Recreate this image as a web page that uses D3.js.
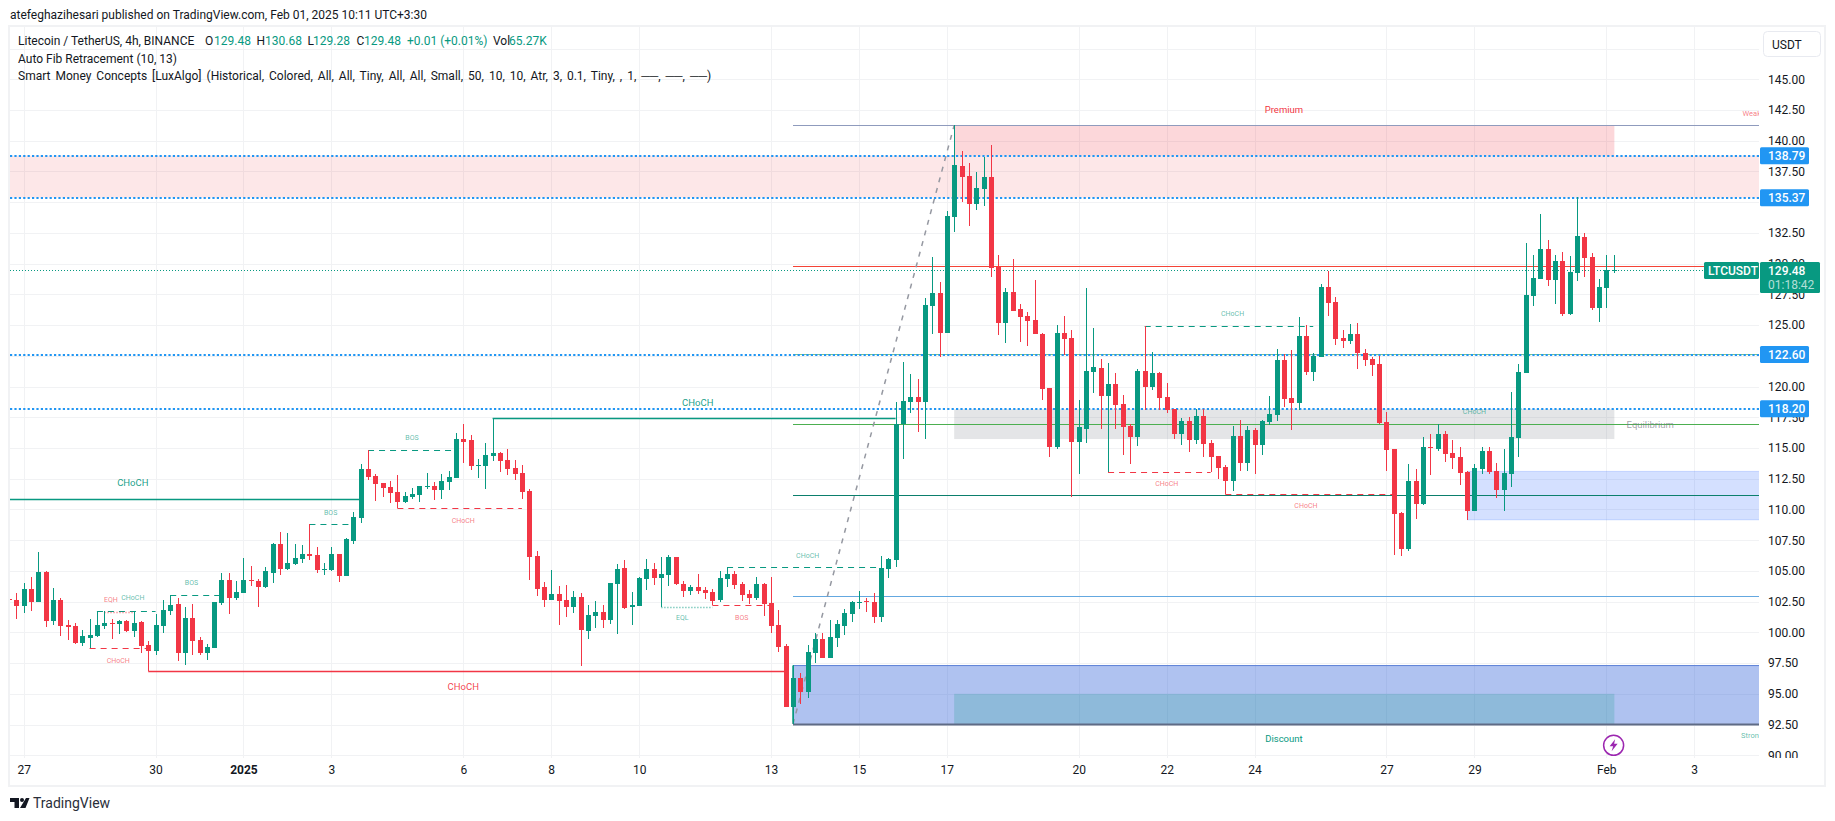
<!DOCTYPE html>
<html>
<head>
<meta charset="utf-8">
<title>LTCUSDT</title>
<script src="https://cdn.jsdelivr.net/npm/d3@7"></script>
<style>
    html, body { margin: 0; padding: 0; background: #fff; }
    svg { display: block; }
    text { font-family: Roboto, sans-serif; }
</style>
</head>
<body>
<div id="chart"></div>
<script>
////////////////////////////////////
///////////////data/////////////////
////////////////////////////////////

// 4h candles, bar 2 is Dec 27 00:00
const opens = [
    102.70,102.61,102.17,103.50,102.50,104.91,100.95,102.61,100.60,100.52,
    99.16,99.57,99.73,100.52,100.79,100.71,100.93,100.14,100.85,98.97,
    98.49,100.52,101.74,102.31,98.32,101.17,99.38,98.32,98.73,102.39,
    104.26,102.80,103.20,104.26,104.18,103.69,104.83,107.19,105.16,105.56,
    105.97,106.38,106.30,105.10,105.08,106.38,104.59,107.44,109.31,113.29,
    112.72,112.15,111.83,111.42,110.61,111.02,111.18,111.83,111.91,111.59,
    112.24,112.56,115.74,115.66,113.54,113.54,114.35,114.60,114.03,113.38,
    112.97,111.51,106.22,103.70,102.64,103.13,102.64,102.07,102.88,100.12,
    101.34,101.66,101.01,103.94,105.24,102.07,102.15,104.35,105.16,104.43,
    104.67,106.14,103.94,103.37,103.70,103.45,103.29,102.64,104.35,104.75,
    103.94,103.13,102.80,103.94,102.39,100.60,98.89,93.92,96.28,95.14,
    98.32,99.46,97.91,99.54,100.51,101.49,102.38,102.55,102.47,101.25,
    105.15,105.88,116.96,118.75,119.16,118.75,126.56,127.62,124.36,133.80,
    137.95,137.14,134.86,136.08,137.06,129.73,125.18,127.70,126.32,125.75,
    125.42,124.28,119.89,115.09,124.36,123.96,115.49,116.55,121.19,121.52,
    119.24,120.21,118.58,116.79,115.90,121.27,119.96,121.10,119.15,118.17,
    116.14,117.20,115.65,117.60,115.41,114.35,113.45,112.32,115.98,113.78,
    116.47,115.24,117.12,117.69,122.16,119.07,118.66,124.11,121.18,122.40,
    128.10,126.88,123.95,123.71,124.28,122.73,122.24,121.83,117.12,114.92,
    109.71,106.78,112.32,110.45,115.09,114.92,116.14,114.60,114.27,113.05,
    109.88,113.30,114.76,113.13,111.59,112.89,115.82,121.11,127.37,128.76,
    131.20,128.67,130.22,125.91,129.24,132.17,130.55,126.40,128.02,129.47
]
const highs = [
    102.90,103.18,103.99,104.48,106.54,104.97,103.58,102.77,101.01,100.74,
    100.19,101.06,101.77,101.77,101.12,101.01,101.01,101.66,100.93,99.30,
    101.47,102.61,103.01,102.77,102.07,102.31,99.62,99.06,102.47,104.83,
    104.83,104.18,106.05,105.40,104.34,105.32,107.27,108.17,108.09,107.19,
    107.11,108.82,106.95,105.65,106.95,106.38,107.68,109.79,113.70,114.84,
    112.89,112.15,112.32,112.81,111.42,111.75,111.91,112.97,112.24,112.89,
    113.13,116.23,116.96,116.06,114.11,115.41,117.42,114.68,114.92,114.03,
    113.62,111.67,106.62,104.10,105.08,103.78,103.86,103.37,103.21,102.23,
    102.56,102.23,104.02,105.57,105.89,103.29,104.51,105.97,105.65,106.14,
    106.30,106.14,104.18,103.86,104.75,103.70,103.53,105.00,105.32,105.00,
    104.10,103.45,104.51,104.02,104.51,101.82,99.05,97.34,96.69,98.97,
    99.94,99.94,101.00,101.00,101.90,102.55,103.36,102.79,103.20,106.21,
    106.05,118.75,122.00,121.03,120.62,127.21,130.55,128.51,134.29,141.26,
    139.17,138.19,137.46,138.68,139.66,130.71,128.02,130.38,126.72,126.07,
    128.68,124.36,119.89,125.01,125.75,124.61,118.91,128.02,124.77,122.25,
    121.92,121.11,119.31,116.95,121.43,124.93,122.81,121.18,120.29,118.17,
    117.44,117.52,118.17,118.17,115.65,114.35,113.62,116.79,117.28,116.79,
    116.63,117.28,119.23,123.06,122.65,122.97,125.66,125.01,122.73,128.34,
    129.40,127.29,124.60,125.09,125.17,123.06,122.40,122.49,117.93,114.92,
    109.79,113.70,113.30,115.90,116.14,116.96,116.39,115.66,115.09,113.13,
    113.70,115.09,115.09,113.79,114.92,119.56,121.84,131.68,130.71,134.04,
    131.93,130.71,130.95,130.63,135.43,132.50,130.87,128.76,130.71,130.68
]
const lows = [
    102.30,101.09,101.60,101.77,102.50,100.47,100.63,99.73,99.38,99.08,
    98.92,98.70,99.65,100.28,99.49,99.90,100.06,99.65,98.35,96.83,
    98.16,99.95,101.41,97.67,97.35,98.16,98.16,97.75,98.73,102.23,
    101.50,102.64,103.20,103.77,102.07,103.61,104.02,104.67,105.08,105.48,
    105.65,105.89,104.83,104.67,105.00,104.10,104.59,107.19,108.90,112.40,
    110.69,111.02,110.53,110.10,110.53,110.86,110.61,111.67,110.77,110.86,
    111.59,112.56,113.78,113.21,112.56,111.67,113.95,113.05,112.81,112.40,
    110.86,104.27,102.96,102.07,102.64,100.60,101.25,101.58,97.27,99.46,
    100.36,100.36,100.69,99.87,101.91,100.60,102.15,103.45,103.86,102.07,
    103.78,103.86,102.88,103.04,103.13,102.72,102.23,102.48,103.70,103.53,
    102.56,102.31,102.64,101.34,99.95,98.41,93.92,92.54,94.17,94.66,
    97.50,97.91,97.91,98.80,99.78,100.84,101.90,101.65,100.76,100.84,
    104.42,105.31,114.11,117.85,116.31,115.74,124.28,122.41,124.36,132.58,
    135.02,133.07,134.37,134.70,128.92,124.20,123.55,126.15,123.63,123.31,
    124.28,118.91,114.27,114.93,122.57,111.02,112.89,115.41,119.48,116.55,
    113.03,116.55,114.43,113.70,115.16,118.09,119.72,118.09,117.85,115.73,
    115.24,114.68,115.33,114.27,113.02,112.48,111.23,111.50,113.13,113.13,
    112.89,114.43,116.87,117.20,118.34,116.47,118.09,120.94,120.45,122.40,
    125.74,123.38,123.14,123.46,121.43,121.67,120.86,116.95,113.13,106.30,
    106.21,106.62,109.22,110.37,112.81,114.76,113.87,113.30,112.00,109.15,
    109.88,112.89,112.89,110.94,109.88,111.83,114.27,121.11,126.56,128.76,
    128.19,126.72,125.75,125.83,128.59,128.92,126.23,125.26,126.40,129.28
]
const closes = [
    102.61,102.17,103.50,102.50,104.91,100.95,102.61,100.55,100.44,99.16,
    99.68,99.79,100.60,100.76,100.71,100.93,100.14,100.76,98.89,98.49,
    100.60,101.79,102.23,98.32,101.17,99.30,98.32,98.81,102.47,104.26,
    102.80,103.29,104.26,104.18,103.69,104.99,107.19,105.16,105.65,106.05,
    106.38,106.22,105.08,105.16,106.38,104.59,107.60,109.39,113.29,112.64,
    112.07,111.75,111.34,110.61,111.10,111.26,111.91,111.91,111.59,112.32,
    112.65,115.74,115.49,113.54,113.62,114.44,114.60,113.95,113.30,112.89,
    111.42,106.14,103.53,102.64,103.13,102.56,102.07,102.88,100.20,101.42,
    101.66,101.01,104.02,105.16,101.99,102.23,104.43,105.16,104.43,104.75,
    106.14,103.94,103.37,103.70,103.37,103.21,102.56,104.43,104.75,103.86,
    103.04,102.80,103.94,102.31,100.52,98.81,93.92,96.28,95.14,98.40,
    99.46,97.91,99.62,100.68,101.57,102.47,102.47,102.47,101.25,105.23,
    105.96,116.96,118.83,119.16,118.75,126.64,127.62,124.36,133.88,138.03,
    137.06,134.86,136.16,137.06,129.65,125.18,127.70,126.15,125.66,125.34,
    124.28,119.81,115.09,124.36,123.88,115.49,116.72,121.27,121.60,119.24,
    120.21,118.51,116.71,115.90,121.27,119.96,121.10,119.07,118.09,116.14,
    117.20,115.65,117.60,115.33,114.27,113.37,112.32,115.98,113.78,116.47,
    115.24,117.20,117.77,122.16,118.99,118.66,124.11,121.18,122.49,128.10,
    126.80,123.87,123.71,124.28,122.73,122.16,121.75,117.03,114.84,109.63,
    106.78,112.32,110.44,115.09,115.01,116.14,114.52,114.19,112.97,109.88,
    113.38,114.76,113.05,111.59,112.97,115.90,121.19,127.45,128.84,131.20,
    128.67,130.22,125.91,129.32,132.25,130.46,126.40,128.10,129.49,129.48
]

// price and time axis (135 and 122.5 sit under the ray tags, so no label there)
const priceTicks = [90, 92.5, 95, 97.5, 100, 102.5, 105, 107.5, 110, 112.5, 115, 117.5, 120, 125, 127.5, 130, 132.5, 137.5, 140, 142.5, 145]
const gridPrices = priceTicks.concat([122.5, 135, 147.5])
const timeBars = [2, 20, 32, 44, 62, 74, 86, 104, 116, 128, 146, 158, 170, 188, 200, 218, 230]
const timeLabels = ['27', '30', '2025', '3', '6', '8', '10', '13', '15', '17', '20', '22', '24', '27', '29', 'Feb', '3']

// horizontal rays the author placed
const rayPrices = [138.79, 135.37, 122.60, 118.20]
const lastPrice = 129.48
const lastLabel = '129.48'
const countdown = '01:18:42'

// auto fib levels
const fibPrices = [141.26, 129.78, 122.62, 116.93, 111.15, 103.00, 92.55]
const fibColors = ['#8f9bbd', '#f44336', '#81c784', '#4caf50', '#0b7f6c', '#64a8e0', '#5f6b85']

// smc structure lines: [start bar, end bar, price, bull?]
const solidLines = [[-2, 48, 110.83, true], [19, 106, 96.83, false], [66, 121, 117.42, true]]
const dashedLines = [
    [12, 20, 101.77, true], [11, 19, 98.70, false], [22, 29, 103.01, true], [41, 47, 108.82, true],
    [49, 61, 114.81, true], [53, 70, 110.10, false], [96, 104, 102.23, false], [98, 119, 105.30, true],
    [155, 178, 124.90, true], [150, 164, 113.02, false], [166, 189, 111.23, false]
]
const dottedLines = [[13, 17, 101.69, false], [89, 96, 102.07, true]]

// smc labels: [text, bar, price, bull?]
const bigLabels = [['CHoCH', 16.9, 112.15, true], ['CHoCH', 62, 95.58, false], ['CHoCH', 94, 118.66, true]]
const smallLabels = [
    ['CHoCH', 16.9, 102.82, true], ['EQH', 13.9, 102.69, false], ['CHoCH', 14.9, 97.69, false],
    ['BOS', 24.9, 104.04, true], ['BOS', 43.9, 109.74, true], ['BOS', 55, 115.87, true],
    ['CHoCH', 62, 109.12, false], ['EQL', 91.9, 101.22, true], ['BOS', 100, 101.22, false],
    ['CHoCH', 109, 106.24, true], ['CHoCH', 167, 125.96, true], ['CHoCH', 158, 112.10, false],
    ['CHoCH', 177, 110.34, false], ['CHoCH', 200, 117.95, true]
]

// shaded boxes: [start bar, end bar, top price, bottom price]
const rightBar = 242
const boxes = [
    { b: [-4, rightBar, 138.79, 135.37], fill: '#f23645', op: 0.12 },
    { b: [129, 219.1, 141.26, 138.79], fill: '#f23645', op: 0.2 },
    { b: [129, 219.1, 118.17, 115.73], fill: '#787b86', op: 0.2 },
    { b: [199, rightBar, 113.10, 109.16], fill: '#2962ff', op: 0.2 },
    { b: [107, rightBar, 97.30, 92.55], fill: '#2d5fd8', op: 0.38 },
    { b: [129, 219.1, 95.00, 92.55], fill: '#089981', op: 0.2 }
]

////////////////////////////////////
//////////////globals///////////////
////////////////////////////////////

const svgWidth = 1835
const svgHeight = 821
const up = '#089981'
const down = '#f23645'
const ink = '#131722'
const gridColor = '#f1f2f4'
const rayBlue = '#2196f3'

const pane = { left: 10, right: 1759, top: 27, bottom: 758 }

const svg = d3.select('#chart')
    .append('svg')
    .attr('width', svgWidth)
    .attr('height', svgHeight)

////////////////////////////////////
//////////////scales////////////////
////////////////////////////////////

const xScale = d3.scaleLinear()
    .domain([2, 218])
    .range([23.67, 1606.3])

const yScale = d3.scaleLinear()
    .domain([90, 145])
    .range([755.3, 79.3])

svg.append('clipPath')
    .attr('id', 'paneClip')
    .append('rect')
    .attr('x', pane.left)
    .attr('y', pane.top)
    .attr('width', pane.right - pane.left)
    .attr('height', pane.bottom - pane.top)

svg.append('clipPath')
    .attr('id', 'axisClip')
    .append('rect')
    .attr('x', pane.right)
    .attr('y', pane.top)
    .attr('width', 66)
    .attr('height', pane.bottom - pane.top)

////////////////////////////////////
//////////////frame/////////////////
////////////////////////////////////

svg.append('rect')
    .attr('x', 9)
    .attr('y', 26)
    .attr('width', 1816)
    .attr('height', 760)
    .attr('fill', 'none')
    .attr('stroke', gridColor)
    .attr('stroke-width', 2)

svg.append('text')
    .attr('x', 10)
    .attr('y', 15)
    .attr('dy', '.35em')
    .attr('font-size', 12)
    .attr('fill', ink)
    .text('atefeghazihesari published on TradingView.com, Feb 01, 2025 10:11 UTC+3:30')

const plot = svg.append('g').attr('clip-path', 'url(#paneClip)')

// grid
plot.selectAll('.gridY')
    .data(gridPrices)
    .join('line')
    .attr('class', 'gridY')
    .attr('x1', pane.left)
    .attr('x2', pane.right)
    .attr('y1', d => Math.round(yScale(d)) + 0.5)
    .attr('y2', d => Math.round(yScale(d)) + 0.5)
    .attr('stroke', gridColor)

plot.selectAll('.gridX')
    .data(timeBars)
    .join('line')
    .attr('class', 'gridX')
    .attr('x1', d => Math.round(xScale(d)) + 0.5)
    .attr('x2', d => Math.round(xScale(d)) + 0.5)
    .attr('y1', pane.top)
    .attr('y2', pane.bottom)
    .attr('stroke', gridColor)

////////////////////////////////////
//////////////zones/////////////////
////////////////////////////////////

plot.selectAll('.box')
    .data(boxes)
    .join('rect')
    .attr('class', 'box')
    .attr('x', d => xScale(d.b[0]))
    .attr('y', d => yScale(d.b[2]))
    .attr('width', d => xScale(d.b[1]) - xScale(d.b[0]))
    .attr('height', d => yScale(d.b[3]) - yScale(d.b[2]))
    .attr('fill', d => d.fill)
    .attr('fill-opacity', d => d.op)

// thin edges of the blue order block
plot.selectAll('.blockEdge')
    .data([113.10, 109.16])
    .join('line')
    .attr('class', 'blockEdge')
    .attr('x1', xScale(199))
    .attr('x2', pane.right)
    .attr('y1', d => yScale(d))
    .attr('y2', d => yScale(d))
    .attr('stroke', '#2962ff')
    .attr('stroke-opacity', 0.2)

// lower fib box edges
plot.append('line')
    .attr('x1', xScale(107))
    .attr('x2', pane.right)
    .attr('y1', yScale(97.30))
    .attr('y2', yScale(97.30))
    .attr('stroke', '#5b7fd6')

plot.append('line')
    .attr('x1', xScale(107))
    .attr('x2', xScale(107))
    .attr('y1', yScale(97.30))
    .attr('y2', yScale(92.55))
    .attr('stroke', up)
    .attr('stroke-width', 1.5)

////////////////////////////////////
//////////////lines/////////////////
////////////////////////////////////

// fib levels
plot.selectAll('.fib')
    .data(fibPrices)
    .join('line')
    .attr('class', 'fib')
    .attr('x1', xScale(107))
    .attr('x2', pane.right)
    .attr('y1', d => Math.round(yScale(d)) + 0.5)
    .attr('y2', d => Math.round(yScale(d)) + 0.5)
    .attr('stroke', (d, i) => fibColors[i])
    .attr('stroke-width', (d, i) => i == 6 ? 2 : 1)

// fib trend line
plot.append('line')
    .attr('x1', xScale(107))
    .attr('y1', yScale(92.55))
    .attr('x2', xScale(129))
    .attr('y2', yScale(141.26))
    .attr('stroke', '#9598a1')
    .attr('stroke-width', 1.5)
    .attr('stroke-dasharray', '5 6')

// blue dotted rays
plot.selectAll('.ray')
    .data(rayPrices)
    .join('line')
    .attr('class', 'ray')
    .attr('x1', pane.left)
    .attr('x2', pane.right)
    .attr('y1', d => Math.round(yScale(d)))
    .attr('y2', d => Math.round(yScale(d)))
    .attr('stroke', rayBlue)
    .attr('stroke-width', 2)
    .attr('stroke-dasharray', '2.2 2.2')

// last price
plot.append('line')
    .attr('x1', pane.left)
    .attr('x2', pane.right)
    .attr('y1', Math.round(yScale(lastPrice)) + 0.5)
    .attr('y2', Math.round(yScale(lastPrice)) + 0.5)
    .attr('stroke', up)
    .attr('stroke-dasharray', '1 2')

// smc structure
function structure(lines, cls, width, dash, opacity) {
    plot.selectAll('.' + cls)
        .data(lines)
        .join('line')
        .attr('class', cls)
        .attr('x1', d => xScale(d[0]))
        .attr('x2', d => xScale(d[1]))
        .attr('y1', d => Math.round(yScale(d[2])) + 0.5)
        .attr('y2', d => Math.round(yScale(d[2])) + 0.5)
        .attr('stroke', d => d[3] ? up : down)
        .attr('stroke-width', width)
        .attr('stroke-dasharray', dash)
        .attr('stroke-opacity', opacity)
}
structure(solidLines, 'solid', 1.3, null, 1)
structure(dashedLines, 'dashed', 1.1, '6 5', 1)
structure(dottedLines, 'dotted', 1.5, '1.5 1.5', 0.5)

////////////////////////////////////
/////////////candles////////////////
////////////////////////////////////

const bars = d3.range(opens.length)
const barColor = i => closes[i] >= opens[i] ? up : down

plot.selectAll('.wick')
    .data(bars)
    .join('rect')
    .attr('class', 'wick')
    .attr('x', i => Math.round(xScale(i)))
    .attr('y', i => Math.round(yScale(highs[i])))
    .attr('width', 1)
    .attr('height', i => Math.max(1, Math.round(yScale(lows[i])) - Math.round(yScale(highs[i]))))
    .attr('fill', barColor)

plot.selectAll('.body')
    .data(bars)
    .join('rect')
    .attr('class', 'body')
    .attr('x', i => Math.round(xScale(i)) - 2)
    .attr('y', i => Math.round(yScale(Math.max(opens[i], closes[i]))))
    .attr('width', 5)
    .attr('height', i => Math.max(1, Math.round(yScale(Math.min(opens[i], closes[i]))) - Math.round(yScale(Math.max(opens[i], closes[i])))))
    .attr('fill', barColor)

////////////////////////////////////
//////////////labels////////////////
////////////////////////////////////

function marks(labels, cls, size, opacity) {
    plot.selectAll('.' + cls)
        .data(labels)
        .join('text')
        .attr('class', cls)
        .attr('x', d => xScale(d[1]))
        .attr('y', d => yScale(d[2]))
        .attr('dy', '.35em')
        .attr('text-anchor', 'middle')
        .attr('font-size', size)
        .attr('fill', d => d[3] ? up : down)
        .attr('fill-opacity', opacity)
        .text(d => d[0])
}
marks(bigLabels, 'bigLabel', 9.5, 0.95)
marks(smallLabels, 'smallLabel', 7, 0.65)

function zoneLabel(txt, bar, price, color, size, anchor, opacity) {
    plot.append('text')
        .attr('x', xScale(bar))
        .attr('y', yScale(price))
        .attr('dy', '.35em')
        .attr('text-anchor', anchor)
        .attr('font-size', size)
        .attr('fill', color)
        .attr('fill-opacity', opacity)
        .text(txt)
}
zoneLabel('Premium', 174, 142.5, down, 9.5, 'middle', 1)
zoneLabel('Discount', 174, 91.36, up, 9.5, 'middle', 1)
zoneLabel('Equilibrium', 224, 116.87, '#787b86', 9.5, 'middle', 0.7)
zoneLabel('Weak', 236.6, 142.26, down, 7.5, 'start', 0.65)
zoneLabel('Strong', 236.4, 91.59, up, 7.5, 'start', 0.65)

////////////////////////////////////
///////////////axes/////////////////
////////////////////////////////////

const yAxis = d3.axisRight(yScale)
    .tickValues(priceTicks)
    .tickFormat(d3.format('.2f'))
    .tickSize(0)
    .tickPadding(0)

const yAxisG = svg.append('g')
    .attr('clip-path', 'url(#axisClip)')
    .append('g')
    .attr('transform', 'translate(1768,0)')
    .call(yAxis)

const xAxis = d3.axisBottom(xScale)
    .tickValues(timeBars)
    .tickFormat((d, i) => timeLabels[i])
    .tickSize(0)
    .tickPadding(0)

const xAxisG = svg.append('g')
    .attr('transform', 'translate(0,765)')
    .call(xAxis)

yAxisG.select('.domain').remove()
xAxisG.select('.domain').remove()

yAxisG.selectAll('text')
    .attr('font-family', 'Roboto, sans-serif')
    .attr('font-size', 12)
    .attr('fill', ink)

xAxisG.selectAll('text')
    .attr('font-family', 'Roboto, sans-serif')
    .attr('font-size', 12)
    .attr('fill', ink)
    .attr('font-weight', (d, i) => timeLabels[i] == '2025' ? 700 : 400)

// ray price boxes
const rayTags = svg.selectAll('.rayTag')
    .data(rayPrices)
    .join('g')
    .attr('class', 'rayTag')
    .attr('transform', d => `translate(1760,${yScale(d)})`)

rayTags.append('rect')
    .attr('y', -8.5)
    .attr('width', 49)
    .attr('height', 17)
    .attr('rx', 1.5)
    .attr('fill', rayBlue)

rayTags.append('text')
    .attr('x', 8)
    .attr('dy', '.35em')
    .attr('font-size', 12)
    .attr('font-weight', 500)
    .attr('fill', '#fff')
    .text(d => d3.format('.2f')(d))

// symbol tag and last price
svg.append('rect')
    .attr('x', 1704)
    .attr('y', yScale(lastPrice) - 8)
    .attr('width', 55)
    .attr('height', 17)
    .attr('rx', 1.5)
    .attr('fill', up)

svg.append('text')
    .attr('x', 1708)
    .attr('y', yScale(lastPrice) + 0.5)
    .attr('dy', '.35em')
    .attr('font-size', 12)
    .attr('font-weight', 500)
    .attr('fill', '#fff')
    .text('LTCUSDT')

svg.append('rect')
    .attr('x', 1760)
    .attr('y', yScale(lastPrice) - 8)
    .attr('width', 60)
    .attr('height', 31)
    .attr('rx', 1.5)
    .attr('fill', up)

svg.append('text')
    .attr('x', 1768)
    .attr('y', yScale(lastPrice) + 0.5)
    .attr('dy', '.35em')
    .attr('font-size', 12)
    .attr('font-weight', 500)
    .attr('fill', '#fff')
    .text(lastLabel)

svg.append('text')
    .attr('x', 1768)
    .attr('y', yScale(lastPrice) + 15)
    .attr('dy', '.35em')
    .attr('font-size', 12)
    .attr('fill', '#fff')
    .attr('fill-opacity', 0.7)
    .text(countdown)

// currency button
svg.append('rect')
    .attr('x', 1763.5)
    .attr('y', 31.5)
    .attr('width', 57)
    .attr('height', 25)
    .attr('rx', 4)
    .attr('fill', '#fff')
    .attr('stroke', '#e8eaf0')

svg.append('text')
    .attr('x', 1772)
    .attr('y', 44.5)
    .attr('dy', '.35em')
    .attr('font-size', 12)
    .attr('fill', ink)
    .text('USDT')

////////////////////////////////////
//////////////legend////////////////
////////////////////////////////////

const legendParts = [
    ['Litecoin / TetherUS, 4h, BINANCE', 18, ink], ['O', 205, ink], ['129.48', 214, up],
    ['H', 256.5, ink], ['130.68', 265, up], ['L', 307.5, ink], ['129.28', 313, up],
    ['C', 356.5, ink], ['129.48', 364, up], ['+0.01 (+0.01%)', 407, up],
    ['Vol', 493, ink], ['65.27K', 509, up]
]

svg.selectAll('.legendPart')
    .data(legendParts)
    .join('text')
    .attr('class', 'legendPart')
    .attr('x', d => d[1])
    .attr('y', 41)
    .attr('dy', '.35em')
    .attr('font-size', 12)
    .attr('fill', d => d[2])
    .text(d => d[0])

const legendLines = [
    'Auto Fib Retracement (10, 13)',
    'Smart Money Concepts [LuxAlgo] (Historical, Colored, All, All, Tiny, All, All, Small, 50, 10, 10, Atr, 3, 0.1, Tiny, , 1, ──, ──, ──)'
]

svg.selectAll('.legendLine')
    .data(legendLines)
    .join('text')
    .attr('class', 'legendLine')
    .attr('x', 18)
    .attr('y', (d, i) => 58.5 + i * 17.5)
    .attr('dy', '.35em')
    .attr('font-size', 12)
    .attr('word-spacing', (d, i) => i == 1 ? 2 : 0)
    .attr('fill', ink)
    .text(d => d)

////////////////////////////////////
///////////////icons////////////////
////////////////////////////////////

// news flash icon above the Feb tick
const flash = svg.append('g')
    .attr('transform', `translate(${xScale(219)},745.3)`)

flash.append('circle')
    .attr('r', 10)
    .attr('fill', '#fff')
    .attr('stroke', '#9c27b0')
    .attr('stroke-width', 1.5)

flash.append('path')
    .attr('d', 'M1.5,-6 L-4,1 L-0.5,1 L-2,6 L4,-1.5 L0.5,-1.5 Z')
    .attr('fill', '#9c27b0')

// TradingView logo
const logo = svg.append('g')
    .attr('transform', 'translate(10,798)')

logo.append('path')
    .attr('d', 'M0,0 H9 V10 H4.5 V4 H0 Z M16,0 H19.5 L15.5,10 H10 Z')
    .attr('fill', ink)

logo.append('circle')
    .attr('cx', 12)
    .attr('cy', 2)
    .attr('r', 2)
    .attr('fill', ink)

svg.append('text')
    .attr('x', 33)
    .attr('y', 803)
    .attr('dy', '.35em')
    .attr('font-size', 14)
    .attr('fill', '#2a2e39')
    .text('TradingView')
</script>
</body>
</html>
